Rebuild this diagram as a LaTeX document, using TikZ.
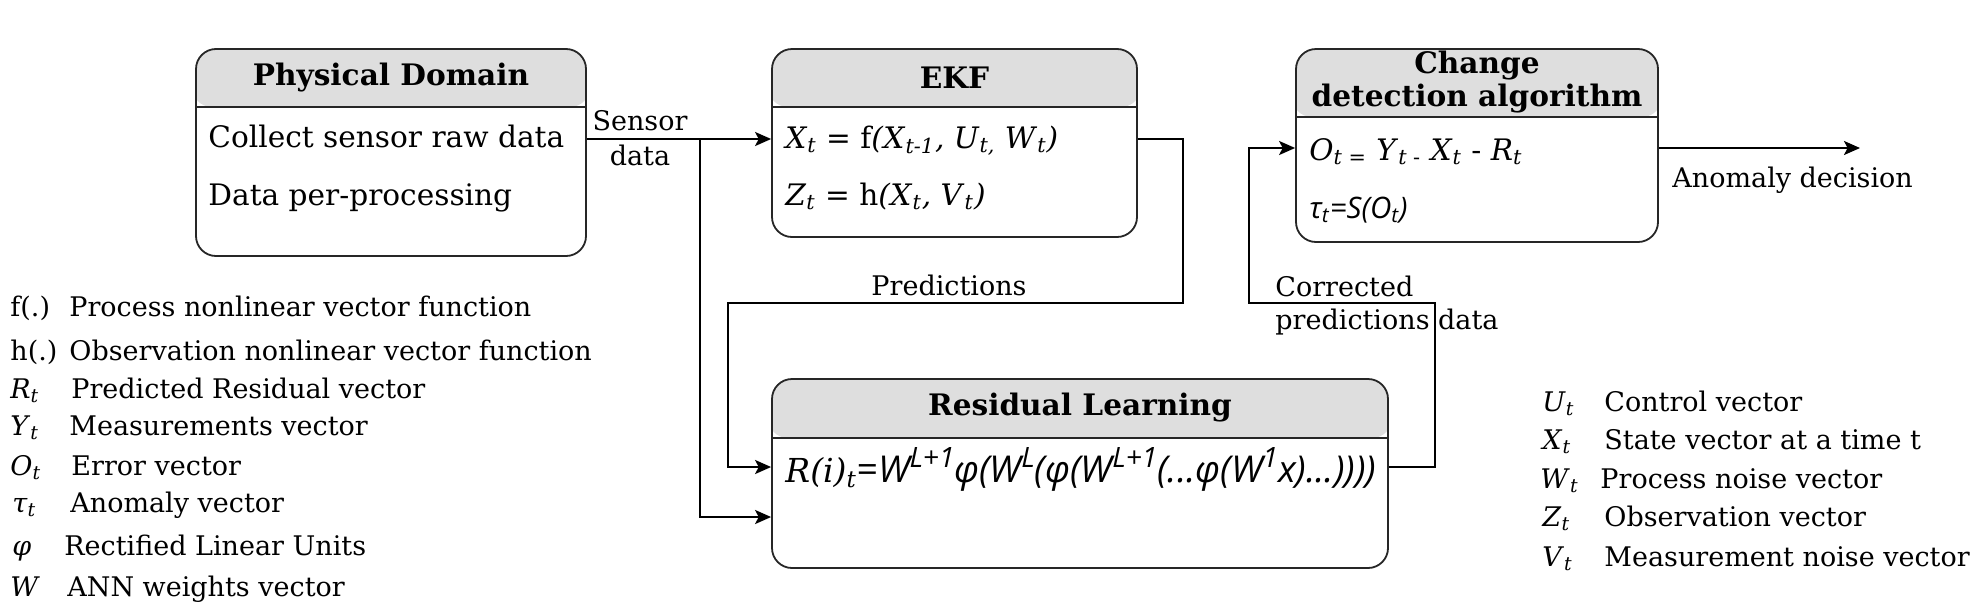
\documentclass[tikz,border=0pt]{standalone}
\usepackage{fontspec}
\setmainfont{DejaVu Serif}
\newfontfamily\osans{Open Sans}
\usetikzlibrary{arrows.meta,calc}
\definecolor{hdr}{HTML}{DEDEDE}
\tikzset{
  box/.style={draw=black!85, line width=0.9pt, rounded corners=10pt, inner sep=0pt},
  hbox/.style={box, path picture={
      \fill[hdr] ([xshift=-2pt,yshift=2pt]path picture bounding box.north west) rectangle ([xshift=2pt,yshift=-#1]path picture bounding box.north east);
      \draw[line width=0.9pt, black!85] ([yshift=-#1]path picture bounding box.north west) -- ([yshift=-#1]path picture bounding box.north east);}},
  btxt/.style={inner sep=0pt, anchor=west, font=\fontsize{14.8pt}{17pt}\selectfont, text height=11pt, text depth=3.5pt},
  ttl/.style={inner sep=0pt, align=center, font=\fontsize{14.8pt}{17pt}\selectfont\bfseries},
  ltxt/.style={inner sep=0pt, anchor=west, font=\fontsize{13.5pt}{16pt}\selectfont, text height=10pt, text depth=3pt},
  lbl/.style={inner sep=0pt, font=\fontsize{13.5pt}{16pt}\selectfont},
  conn/.style={line width=1.1pt, -{Stealth[length=8pt, width=7pt, inset=1.8pt]}}
}
\newcommand{\vsub}[2]{\textit{#1}\textsubscript{\textit{#2}}}
\newcommand{\hsup}[1]{\raisebox{0.4em}{\fontsize{14pt}{14pt}\selectfont #1}}
\begin{document}
\begin{tikzpicture}[x=0.5pt, y=-0.5pt]
\useasboundingbox (0,0) rectangle (1979,611);

% boxes
\node[hbox=29pt, minimum width=195pt, minimum height=103.5pt] (pd) at (391,152.5) {};
\node[hbox=29pt, minimum width=182.5pt, minimum height=94pt] (ekf) at (954.5,143) {};
\node[hbox=34pt, minimum width=181pt, minimum height=96.5pt] (cd) at (1477,145.5) {};
\node[hbox=29.5pt, minimum width=308pt, minimum height=94.5pt] (rl) at (1080,473.5) {};

% titles
\node[ttl] (pdt) at (391,78) {Physical Domain};
\node[ttl] (ekft) at (954.5,78) {EKF};
\node[ttl, font=\fontsize{14.8pt}{16.5pt}\selectfont\bfseries] (cdt) at (1477,82) {Change\\detection algorithm};
\node[ttl] (rlt) at (1080,408) {Residual Learning};

% box contents
\node[btxt] (pd1) at (208,140) {Collect sensor raw data};
\node[btxt] (pd2) at (208,198) {Data per-processing};
\node[btxt] (ekf1) at (785,141) {\vsub{X}{t} = f\textit{(}\vsub{X}{t-1}\textit{, }\vsub{U}{t,}\textit{ }\vsub{W}{t}\textit{)}};
\node[btxt] (ekf2) at (785,198) {\vsub{Z}{t} = h\textit{(}\vsub{X}{t}\textit{, }\vsub{V}{t}\textit{)}};
\node[btxt] (cd1) at (1309,153) {\textit{O}\textsubscript{\textit{t} =} \textit{Y}\textsubscript{\textit{t} -} \vsub{X}{t} - \vsub{R}{t}};
\node[btxt] (cd2) at (1309,211) {{\osans\itshape τ\textsubscript{t}=S(O\textsubscript{t})}};
\node[btxt] (rl1) at (785,475) {{\fontsize{16.5pt}{18pt}\selectfont\textit{R(i)}\textsubscript{\textit{t}}}{\osans\itshape\fontsize{18.5pt}{20pt}\selectfont =W\hsup{L+1}φ(W\hsup{L}(φ(W\hsup{L+1}(...φ(W\hsup{1}x)...))))}};

% connector coordinates
\coordinate (sy) at (0,139);
\coordinate (br) at (700,139);
\coordinate (r2) at (0,517);
\coordinate (p1) at (1183,303);
\coordinate (p2) at (728,467);
\coordinate (c1) at (1435,303);
\coordinate (c2) at (1249,148);
\coordinate (out) at (1860,148);

% connectors
\draw[conn] (pd.east |- sy) -- (ekf.west |- sy);
\draw[conn] (br) |- (rl.west |- r2);
\draw[conn] (ekf.east |- sy) -| (p1) -| (p2) -- (rl.west |- p2);
\draw[conn] (rl.east |- p2) -| (c1) -| (c2) -- (cd.west |- c2);
\draw[conn] (cd.east |- c2) -- (out);

% connector labels
\node[lbl] (sl1) at (640,121) {Sensor};
\node[lbl] (sl2) at (640,155) {data};
\node[lbl] (prl) at (949,285) {Predictions};
\node[ltxt] (co1) at (1275,289) {Corrected};
\node[ltxt] (co2) at (1275,322) {predictions data};
\node[ltxt] (anl) at (1672,180) {Anomaly decision};

% left legend
\node[ltxt] (ls1) at (10,309) {f(.)};
\node[ltxt] (ld1) at (69,309) {Process nonlinear vector function};
\node[ltxt] (ls2) at (10,353) {h(.)};
\node[ltxt] (ld2) at (69,353) {Observation nonlinear vector function};
\node[ltxt] (ls3) at (10,391) {\vsub{R}{t}};
\node[ltxt] (ld3) at (71,391) {Predicted Residual vector};
\node[ltxt] (ls4) at (10,428) {\vsub{Y}{t}};
\node[ltxt] (ld4) at (69,428) {Measurements vector};
\node[ltxt] (ls5) at (10,468) {\vsub{O}{t}};
\node[ltxt] (ld5) at (71,468) {Error vector};
\node[ltxt] (ls6) at (12,505) {\vsub{τ}{t}};
\node[ltxt] (ld6) at (70,505) {Anomaly vector};
\node[ltxt] (ls7) at (12,548) {\textit{φ}};
\node[ltxt] (ld7) at (64,548) {Rectified Linear Units};
\node[ltxt] (ls8) at (10,589) {\textit{W}};
\node[ltxt] (ld8) at (67,589) {ANN weights vector};

% right legend
\node[ltxt] (rs1) at (1542,404) {\vsub{U}{t}};
\node[ltxt] (rd1) at (1604,404) {Control vector};
\node[ltxt] (rs2) at (1542,442) {\vsub{X}{t}};
\node[ltxt] (rd2) at (1604,442) {State vector at a time t};
\node[ltxt] (rs3) at (1540,481) {\vsub{W}{t}};
\node[ltxt] (rd3) at (1600,481) {Process noise vector};
\node[ltxt] (rs4) at (1542,519) {\vsub{Z}{t}};
\node[ltxt] (rd4) at (1604,519) {Observation vector};
\node[ltxt] (rs5) at (1542,559) {\vsub{V}{t}};
\node[ltxt] (rd5) at (1604,559) {Measurement noise vector};
\end{tikzpicture}
\end{document}
